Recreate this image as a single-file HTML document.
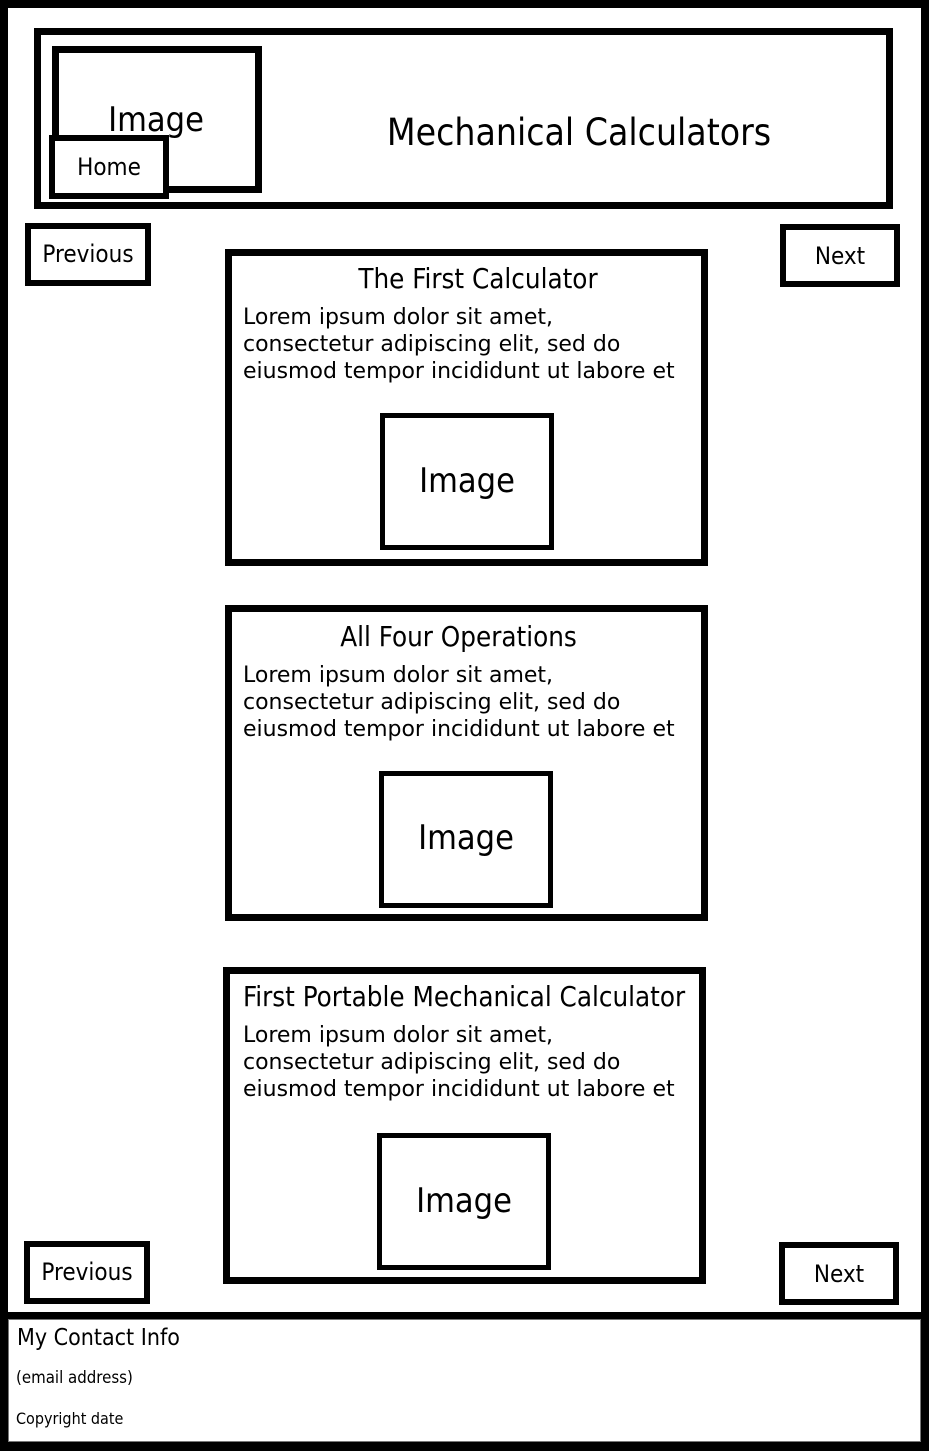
<!DOCTYPE html>
<html><head><meta charset="utf-8"><style>
*{margin:0;padding:0;box-sizing:border-box}
body{width:929px;height:1451px;background:#000;position:relative;overflow:hidden;font-family:"DejaVu Sans","Liberation Sans",sans-serif;color:#000}
.b{position:absolute;background:#fff;border:solid #000}
.t{position:absolute;white-space:nowrap;line-height:1;font-family:"DejaVu Sans Condensed","DejaVu Sans","Liberation Sans",sans-serif}
.c{text-align:center}
.lor{position:absolute;font-size:22px;line-height:27px;white-space:nowrap;font-family:"DejaVu Sans",sans-serif}
</style></head><body>
<div class="b" style="left:8px;top:8px;width:913px;height:1304px;border-width:0"></div>
<div class="b" style="left:8px;top:1319px;width:913px;height:123px;border:1px solid #777"></div>

<div class="b" style="left:34px;top:28px;width:859px;height:181px;border-width:7px"></div>
<div class="b" style="left:52px;top:46px;width:210px;height:147px;border-width:7px"></div>
<div class="t c" style="left:52px;top:103px;width:208px;font-size:34px">Image</div>
<div class="b" style="left:49px;top:135px;width:120px;height:64px;border-width:6px"></div>
<div class="t c" style="left:49px;top:155px;width:120px;font-size:24px">Home</div>
<div class="t c" style="left:300px;top:114px;width:558px;font-size:37px">Mechanical Calculators</div>

<div class="b" style="left:25px;top:223px;width:126px;height:63px;border-width:6px"></div>
<div class="t c" style="left:25px;top:242px;width:126px;font-size:24px">Previous</div>
<div class="b" style="left:780px;top:224px;width:120px;height:63px;border-width:6px"></div>
<div class="t c" style="left:780px;top:244px;width:120px;font-size:24px">Next</div>

<div class="b" style="left:225px;top:249px;width:483px;height:317px;border-width:7px"></div>
<div class="t c" style="left:225px;top:266px;width:506px;font-size:27.5px">The First Calculator</div>
<div class="lor" style="left:243px;top:304px">Lorem ipsum dolor sit amet,<br>consectetur adipiscing elit, sed do<br>eiusmod tempor incididunt ut labore et</div>
<div class="b" style="left:380px;top:413px;width:174px;height:137px;border-width:5px"></div>
<div class="t c" style="left:380px;top:464px;width:174px;font-size:34px">Image</div>

<div class="b" style="left:225px;top:605px;width:483px;height:316px;border-width:7px"></div>
<div class="t c" style="left:225px;top:624px;width:467px;font-size:27.5px">All Four Operations</div>
<div class="lor" style="left:243px;top:662px">Lorem ipsum dolor sit amet,<br>consectetur adipiscing elit, sed do<br>eiusmod tempor incididunt ut labore et</div>
<div class="b" style="left:379px;top:771px;width:174px;height:137px;border-width:5px"></div>
<div class="t c" style="left:379px;top:821px;width:174px;font-size:34px">Image</div>

<div class="b" style="left:223px;top:967px;width:483px;height:317px;border-width:7px"></div>
<div class="t" style="left:243px;top:984px;font-size:27.5px">First Portable Mechanical Calculator</div>
<div class="lor" style="left:243px;top:1022px">Lorem ipsum dolor sit amet,<br>consectetur adipiscing elit, sed do<br>eiusmod tempor incididunt ut labore et</div>
<div class="b" style="left:377px;top:1133px;width:174px;height:137px;border-width:5px"></div>
<div class="t c" style="left:377px;top:1184px;width:174px;font-size:34px">Image</div>

<div class="b" style="left:24px;top:1241px;width:126px;height:63px;border-width:6px"></div>
<div class="t c" style="left:24px;top:1260px;width:126px;font-size:24px">Previous</div>
<div class="b" style="left:779px;top:1242px;width:120px;height:63px;border-width:6px"></div>
<div class="t c" style="left:779px;top:1262px;width:120px;font-size:24px">Next</div>

<div class="t" style="left:17px;top:1327px;font-size:23px">My Contact Info</div>
<div class="t" style="left:16px;top:1369px;font-size:16.7px">(email address)</div>
<div class="t" style="left:16px;top:1411px;font-size:16px">Copyright date</div>
</body></html>
